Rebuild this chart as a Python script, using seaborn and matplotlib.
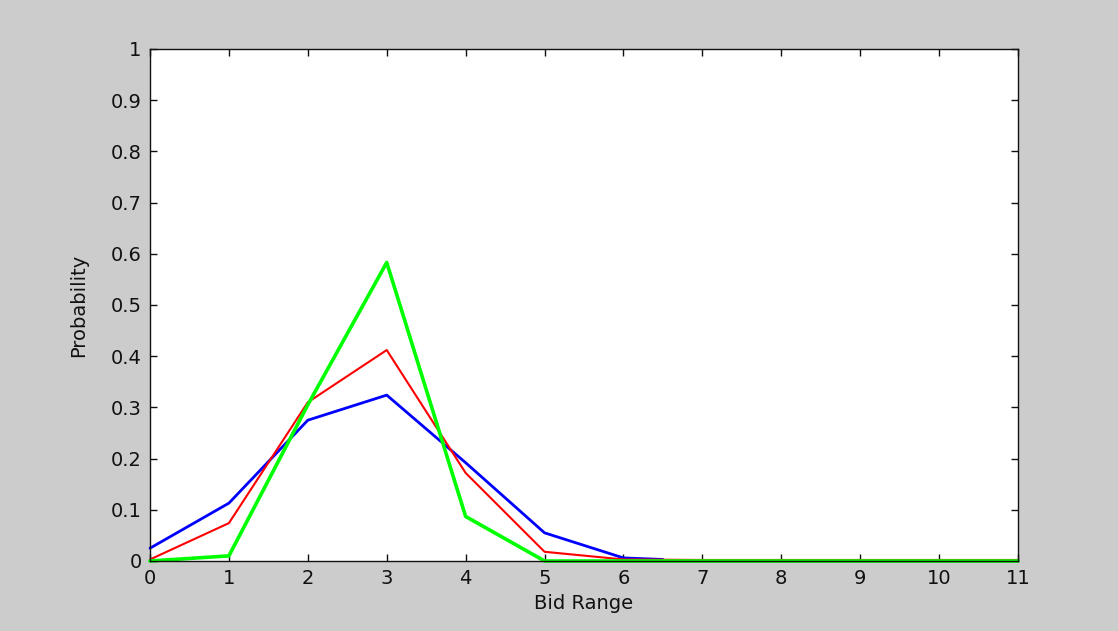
import matplotlib.pyplot as plt
import seaborn as sns
import pandas as pd

# bid range positions and probabilities
blue_x = [0, 1, 2, 3, 4, 5, 6, 6.5]
blue_y = [0.025, 0.113, 0.275, 0.324, 0.192, 0.055, 0.006, 0.003]

red_x = [0, 1, 2, 3, 4, 5, 6, 7, 8, 9, 10, 11]
red_y = [0.003, 0.074, 0.31, 0.412, 0.172, 0.018, 0.003, 0.002, 0.002, 0.002, 0.002, 0.002]

green_x = [0, 1, 2, 3, 4, 5, 6, 7, 8, 9, 10, 11]
green_y = [0.0, 0.01, 0.305, 0.583, 0.087, 0.0, 0.0, 0.0, 0.0, 0.0, 0.0, 0.0]

x_ticks = list(range(0, 12))
y_ticks = [0, 0.1, 0.2, 0.3, 0.4, 0.5, 0.6, 0.7, 0.8, 0.9, 1]
y_labels = ['0', '0.1', '0.2', '0.3', '0.4', '0.5', '0.6', '0.7', '0.8', '0.9', '1']

sns.set_style("ticks")
plt.rcParams['font.family'] = ['DejaVu Sans']

fig = plt.figure(figsize=(11.18, 6.31), dpi=100, facecolor='#cccccc')
ax = fig.add_axes([150 / 1118, 70 / 631, 868 / 1118, 512 / 631])
ax.set_facecolor('white')

blue = pd.DataFrame({'x': blue_x, 'y': blue_y})
red = pd.DataFrame({'x': red_x, 'y': red_y})
green = pd.DataFrame({'x': green_x, 'y': green_y})

sns.lineplot(data=blue, x='x', y='y', ax=ax, color='#0000ff', linewidth=2.0, clip_on=False)
sns.lineplot(data=red, x='x', y='y', ax=ax, color='#ff0000', linewidth=1.5, clip_on=False)
sns.lineplot(data=green, x='x', y='y', ax=ax, color='#00ff00', linewidth=2.6, clip_on=False)

ax.set_xlim(0, 11)
ax.set_ylim(0, 1)
ax.set_xticks(x_ticks)
ax.set_yticks(y_ticks)
ax.set_yticklabels(y_labels)
ax.tick_params(direction='in', length=5, width=1, labelsize=14, colors='#111111',
               top=True, right=True, pad=6)
for s in ax.spines.values():
    s.set_visible(True)
    s.set_color('#111111')
    s.set_linewidth(1)

ax.set_xlabel('Bid Range', fontsize=14, color='#111111', labelpad=4)
ax.set_ylabel('Probability', fontsize=14, color='#111111', labelpad=16)

plt.savefig('out.png', dpi=100, facecolor=fig.get_facecolor())
